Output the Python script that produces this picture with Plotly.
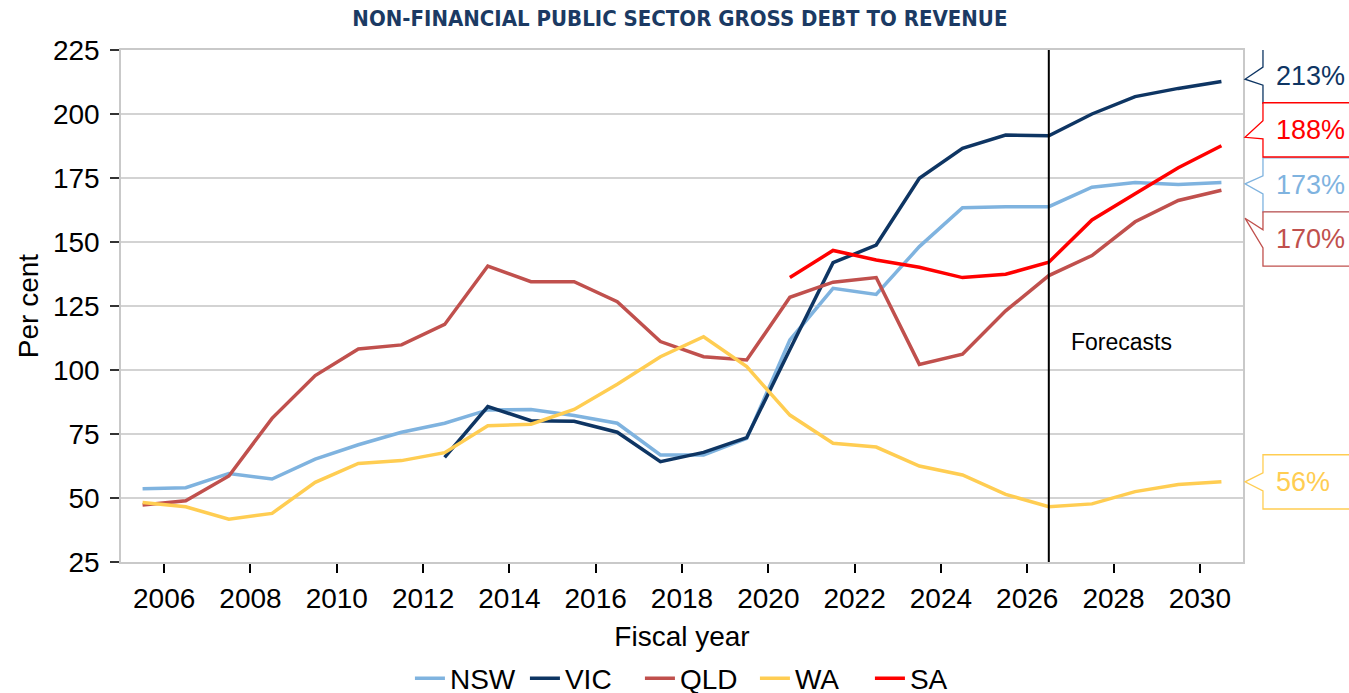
import plotly.graph_objects as go

# Fiscal years (year in which each financial year starts)
years = [2005, 2006, 2007, 2008, 2009, 2010, 2011, 2012, 2013, 2014, 2015, 2016, 2017,
         2018, 2019, 2020, 2021, 2022, 2023, 2024, 2025, 2026, 2027, 2028, 2029, 2030]

nsw = [53.6, 54.0, 59.6, 57.4, 65.2, 70.8, 75.7, 79.2, 84.4, 84.6, 82.2, 79.2, 66.8,
       66.8, 73.3, 111.7, 131.9, 129.5, 148.2, 163.4, 163.8, 163.8, 171.4, 173.2, 172.5, 173.2]
vic = [None, None, None, None, None, None, None, 65.9, 85.7, 80.2, 80.0, 75.7, 64.2,
       67.8, 73.6, 108.0, 141.9, 148.8, 174.9, 186.6, 191.8, 191.5, 200.0, 206.8, 210.0, 212.7]
qld = [47.3, 48.9, 58.6, 81.1, 97.8, 108.2, 109.8, 117.8, 140.6, 134.5, 134.5, 126.7, 111.1,
       105.2, 103.9, 128.4, 134.3, 136.1, 102.2, 106.2, 123.1, 136.9, 144.7, 157.9, 166.2, 170.2]
wa = [48.2, 46.6, 41.7, 44.0, 56.1, 63.5, 64.6, 67.7, 78.2, 78.8, 84.6, 94.4, 105.2,
      113.0, 101.3, 82.4, 71.4, 69.9, 62.5, 59.0, 51.4, 46.6, 47.7, 52.5, 55.3, 56.3]
sa = [None, None, None, None, None, None, None, None, None, None, None, None, None,
      None, None, 136.1, 146.7, 143.0, 140.1, 136.1, 137.4, 142.1, 158.6, 168.8, 179.0, 187.6]

forecast_from = 2026
x_ticks = [2006, 2008, 2010, 2012, 2014, 2016, 2018, 2020, 2022, 2024, 2026, 2028, 2030]
y_ticks = [25, 50, 75, 100, 125, 150, 175, 200, 225]

series = [
    ("NSW", nsw, "#7FB3DF"),
    ("VIC", vic, "#0E3563"),
    ("QLD", qld, "#C0504D"),
    ("WA", wa, "#FFCD52"),
    ("SA", sa, "#FF0000"),
]

FONT = "Liberation Sans, Arial, sans-serif"
x_mid = [y + 0.5 for y in years]  # each fiscal year drawn at its mid-point

fig = go.Figure()
for name, vals, col in series:
    fig.add_trace(go.Scatter(
        x=x_mid, y=vals, name=name, mode="lines",
        line=dict(color=col, width=3.5), connectgaps=False,
    ))

# forecast divider
fx = forecast_from + 0.5
fig.add_shape(type="line", xref="x", yref="paper", x0=fx, x1=fx, y0=0, y1=1,
              line=dict(color="black", width=2))
fig.add_annotation(x=fx, y=111, xref="x", yref="y", text="Forecasts", showarrow=False,
                   xanchor="left", yanchor="middle", xshift=20,
                   font=dict(family=FONT, size=23, color="black"))

# end-value callouts: (box centre offset, arrow tip offset) from the final value
callout_offsets = {"VIC": (2.1, 0.9), "SA": (6.2, 3.3), "NSW": (-0.9, -0.5),
                   "QLD": (-19.0, -10.9), "WA": (0.0, 0.0)}
BOX_H = 21.2       # axis units
X_TIP = 1.0018     # paper
X_BOX = 1.0178
X_END = 1.12
X_TEXT = 1.0275
for name, vals, col in series:
    last = vals[-1]
    dc, dt = callout_offsets[name]
    c = last + dc
    tip = last + dt
    top, bot = c + BOX_H / 2, c - BOX_H / 2
    n1, n2 = top - BOX_H / 3, top - 2 * BOX_H / 3
    path = (f"M {X_BOX},{top} L {X_END},{top} L {X_END},{bot} L {X_BOX},{bot} "
            f"L {X_BOX},{n2} L {X_TIP},{tip} L {X_BOX},{n1} Z")
    fig.add_shape(type="path", xref="paper", yref="y", path=path,
                  line=dict(color=col, width=1.3), fillcolor="white", layer="above")
    fig.add_annotation(x=X_TEXT, y=c, xref="paper", yref="y", text=f"{round(last)}%",
                       showarrow=False, xanchor="left", yanchor="middle",
                       font=dict(family=FONT, size=27, color=col))

fig.update_layout(
    width=1349, height=693,
    margin=dict(l=121, r=106, t=50, b=131, autoexpand=False),
    paper_bgcolor="white", plot_bgcolor="white",
    font=dict(family=FONT, size=28, color="black"),
    title=dict(text="<b>NON-FINANCIAL PUBLIC SECTOR GROSS DEBT TO REVENUE</b>",
               x=0.504, xanchor="center", y=0.974, yanchor="middle",
               font=dict(family="DejaVu Sans Condensed, Liberation Sans Narrow, Roboto, sans-serif",
                         size=22, color="#1B3A63")),
    showlegend=True,
    legend=dict(orientation="h", x=0.517, xanchor="center", xref="container",
                y=0.057, yanchor="top", yref="container",
                font=dict(family=FONT, size=28), itemwidth=30,
                entrywidth=70, traceorder="normal"),
)
fig.update_xaxes(
    range=[2005, 2031], tickvals=x_ticks, ticktext=[str(t) for t in x_ticks],
    showgrid=False, zeroline=False,
    showline=True, linecolor="#C9C9C9", linewidth=1.5, mirror=True,
    ticks="outside", ticklen=9, tickwidth=2, tickcolor="black",
    ticklabelstandoff=2,
    title=dict(text="Fiscal year", standoff=13, font=dict(family=FONT, size=28)),
)
fig.update_yaxes(
    range=[25, 225], tickvals=y_ticks,
    showgrid=True, gridcolor="#D3D3D3", gridwidth=1.5, zeroline=False,
    showline=True, linecolor="#C9C9C9", linewidth=1.5, mirror=True,
    ticks="outside", ticklen=9, tickwidth=1.5, tickcolor="#333333",
    ticklabelstandoff=5,
    title=dict(text="Per cent", standoff=6, font=dict(family=FONT, size=28)),
)

fig.write_html("out.html")
